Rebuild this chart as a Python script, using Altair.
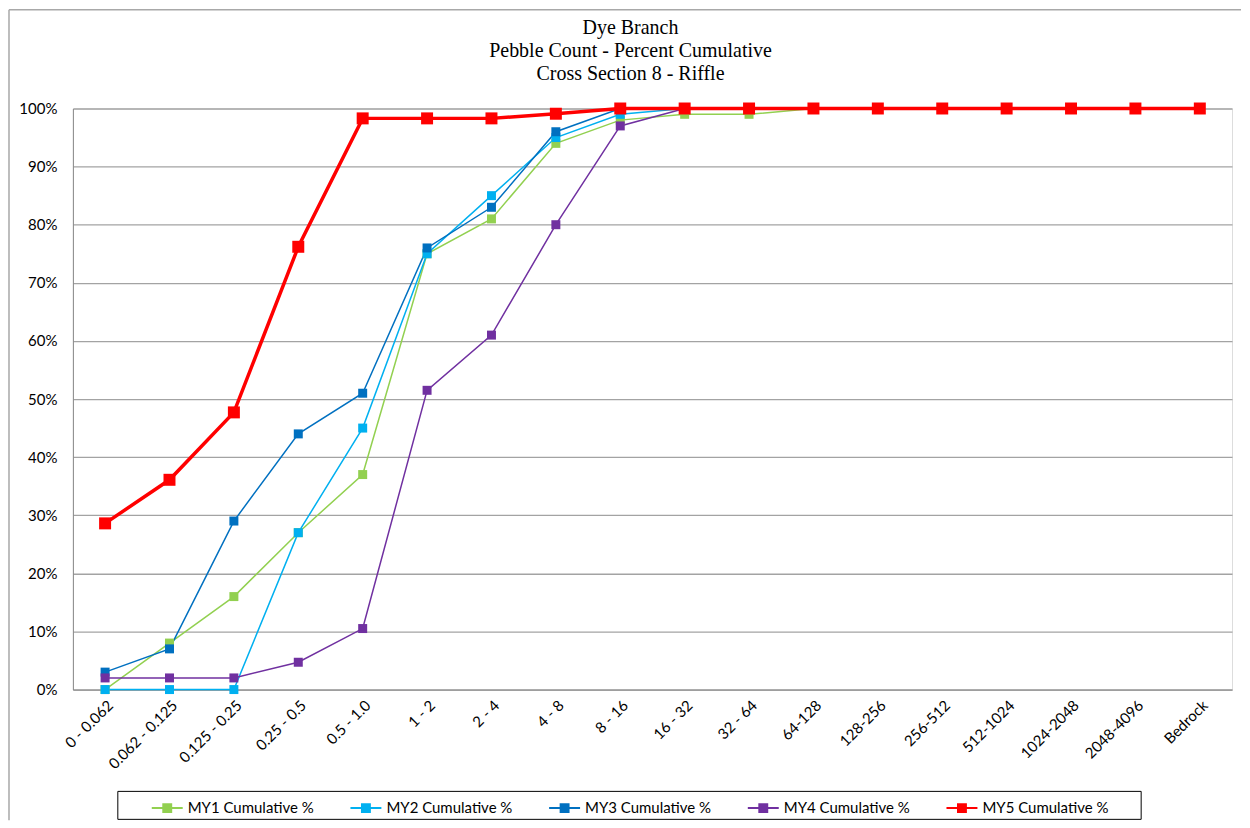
import altair as alt
import pandas as pd

categories = ["0 - 0.062", "0.062 - 0.125", "0.125 - 0.25", "0.25 - 0.5", "0.5 - 1.0",
              "1 - 2", "2 - 4", "4 - 8", "8 - 16", "16 - 32", "32 - 64", "64-128",
              "128-256", "256-512", "512-1024", "1024-2048", "2048-4096", "Bedrock"]

my1 = [0, 8, 16, 27, 37, 75, 81, 94, 98, 99, 99, 100, 100, 100, 100, 100, 100, 100]
my2 = [0, 0, 0, 27, 45, 75, 85, 95, 99, 100, 100, 100, 100, 100, 100, 100, 100, 100]
my3 = [3, 7, 29, 44, 51, 76, 83, 96, 100, 100, 100, 100, 100, 100, 100, 100, 100, 100]
my4 = [2, 2, 2, 4.7, 10.5, 51.5, 61, 80, 97, 100, 100, 100, 100, 100, 100, 100, 100, 100]
my5 = [28.6, 36.1, 47.7, 76.2, 98.3, 98.3, 98.3, 99.1, 100, 100, 100, 100, 100, 100, 100, 100, 100, 100]

series_names = ["MY1 Cumulative %", "MY2 Cumulative %", "MY3 Cumulative %",
                "MY4 Cumulative %", "MY5 Cumulative %"]
series_values = [my1, my2, my3, my4, my5]
series_colors = ["#92D050", "#00B0F0", "#0070C0", "#7030A0", "#FF0000"]

rows = []
for name, vals in zip(series_names, series_values):
    for c, v in zip(categories, vals):
        rows.append({"size_class": c, "series": name, "pct": v})
df = pd.DataFrame(rows)

FONT = "Lato"
GRAY = "#8a8a8a"
is_big = "datum.series === 'MY5 Cumulative %'"

color = alt.Color(
    "series:N",
    scale=alt.Scale(domain=series_names, range=series_colors),
    legend=alt.Legend(
        orient="none", legendX=79, legendY=685, direction="horizontal", title=None,
        columnPadding=36, labelFontSize=15, labelFont=FONT, labelColor="black",
        labelOffset=5, padding=0, symbolSize=961,
        symbolType="M-1,-0.065L1,-0.065L1,0.065L-1,0.065Z M-0.32,-0.32L0.32,-0.32L0.32,0.32L-0.32,0.32Z",
        symbolStrokeWidth=0,
    ),
)

x = alt.X("size_class:N", sort=categories,
          scale=alt.Scale(type="point", padding=0.5),
          axis=alt.Axis(title=None, labelAngle=-45, labelAlign="right", labelBaseline="top",
                        labelFontSize=15, labelFont=FONT,
                        labelColor="black", ticks=False, grid=False, domainColor=GRAY,
                        labelPadding=8, labelOverlap=False))
y = alt.Y("pct:Q", scale=alt.Scale(domain=[0, 100], nice=False),
          axis=alt.Axis(title=None, values=list(range(0, 101, 10)),
                        labelExpr="datum.value + '%'", ticks=False, domainColor=GRAY,
                        gridColor="#a3a3a3", gridWidth=1.3, labelFontSize=15,
                        labelFont=FONT, labelColor="black", labelPadding=16))

base = alt.Chart(df)
lines = base.mark_line().encode(
    x=x, y=y, color=color,
    strokeWidth=alt.condition(is_big, alt.value(3.5), alt.value(1.5)),
)
points = base.mark_square(opacity=1).encode(
    x=x, y=y, color=color,
    size=alt.condition(is_big, alt.value(144), alt.value(81)),
)

one = alt.Data(values=[{"k": 1}])
legend_box = alt.Chart(one).mark_rect(fillOpacity=0, stroke="black", strokeWidth=1).encode(
    x=alt.value(45), x2=alt.value(1070), y=alt.value(684), y2=alt.value(712))
frame_left = alt.Chart(one).mark_rule(color="#a8a8a8", strokeWidth=1.5).encode(
    x=alt.value(-64), y=alt.value(-99), y2=alt.value(713))
frame_top = alt.Chart(one).mark_rule(color="#a8a8a8", strokeWidth=1.5).encode(
    x=alt.value(-64), x2=alt.value(1170), y=alt.value(-99))

chart = alt.layer(frame_left, frame_top, legend_box, lines, points).properties(
    width=1161, height=582,
    padding={"left": 0, "top": 0, "right": 0, "bottom": 0},
    title=alt.Title(["Dye Branch", "Pebble Count - Percent Cumulative", "Cross Section 8 - Riffle"],
                    font="Liberation Serif", fontSize=20, fontWeight="normal",
                    lineHeight=23, anchor="middle", frame="group", offset=-75, dx=-22,
                    color="black"),
).configure_view(stroke=GRAY, strokeWidth=1.3).configure(background="white")

chart.save("out.html", embed_options={"renderer": "svg", "actions": False})
